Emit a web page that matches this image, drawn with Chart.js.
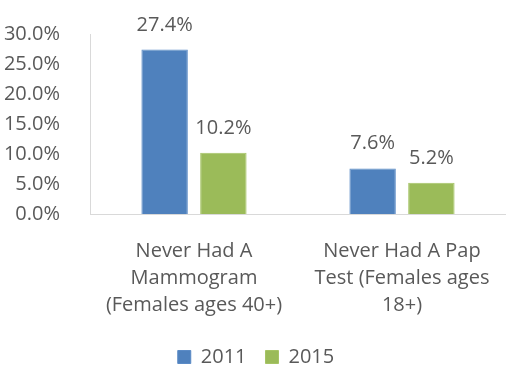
<!DOCTYPE html>
<html>
<head>
<meta charset="utf-8">
<script src="https://cdn.jsdelivr.net/npm/chart.js@4/dist/chart.umd.min.js"></script>
<style>
  html, body { margin: 0; padding: 0; background: #fff; }
  #wrap { width: 506px; height: 367px; }
</style>
</head>
<body>
<div id="wrap"><canvas id="screening" width="506" height="367"></canvas></div>
<script>
// Screening gaps, share of women (%)
const categories = [
    ['Never Had A', 'Mammogram', '(Females ages 40+)'],
    ['Never Had A Pap', 'Test (Females ages', '18+)']
];
const years = ['2011', '2015'];
const values2011 = [27.4, 7.6];
const values2015 = [10.2, 5.2];

const TEXT = '#595959';
const FONT = "'Open Sans', 'Liberation Sans', sans-serif";
const SIZE = 20;

// value labels drawn above each bar
const barLabels = {
    id: 'barLabels',
    afterDatasetsDraw(chart) {
        const ctx = chart.ctx;
        ctx.save();
        ctx.fillStyle = TEXT;
        ctx.font = `${SIZE}px ${FONT}`;
        ctx.textAlign = 'center';
        ctx.textBaseline = 'alphabetic';
        chart.data.datasets.forEach((ds, i) => {
            chart.getDatasetMeta(i).data.forEach((bar, j) => {
                ctx.fillText(ds.data[j].toFixed(1) + '%', bar.x, bar.y - 19);
            });
        });
        ctx.restore();
    }
};

new Chart(document.getElementById('screening'), {
    type: 'bar',
    data: {
        labels: categories,
        datasets: [
            { label: years[0], data: values2011, backgroundColor: '#4F81BD', borderColor: '#5b8bc6', borderWidth: 1 },
            { label: years[1], data: values2015, backgroundColor: '#9BBB59', borderColor: '#a6c465', borderWidth: 1 }
        ]
    },
    options: {
        responsive: false,
        animation: false,
        categoryPercentage: 0.565,
        barPercentage: 0.79,
        layout: { padding: { top: 27, right: -6, left: 0, bottom: -10 } },
        scales: {
            y: {
                min: 0,
                max: 30,
                ticks: {
                    stepSize: 5,
                    color: TEXT,
                    font: { family: FONT, size: SIZE },
                    padding: 22,
                    callback: v => v.toFixed(1) + '%'
                },
                grid: { display: false },
                border: { display: true, color: '#d9d9d9', width: 1 },
                afterFit: s => { s.width = 90; }
            },
            x: {
                ticks: {
                    color: TEXT,
                    font: { family: FONT, size: SIZE, lineHeight: 1.35 },
                    padding: 16,
                    maxRotation: 0,
                    autoSkip: false
                },
                grid: { display: false },
                border: { display: true, color: '#d9d9d9', width: 1 },
                afterFit: s => { s.height = 114; }
            }
        },
        plugins: {
            legend: {
                position: 'bottom',
                labels: {
                    color: TEXT,
                    font: { family: FONT, size: SIZE },
                    boxWidth: 13,
                    boxHeight: 13,
                    padding: 19
                }
            },
            tooltip: { enabled: false }
        }
    },
    plugins: [barLabels]
});
</script>
</body>
</html>
